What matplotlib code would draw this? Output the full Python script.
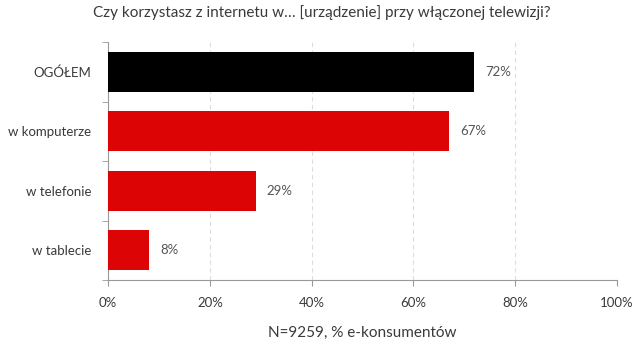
import matplotlib
matplotlib.use('Agg')
import matplotlib.pyplot as plt

# data
categories = ['OGÓŁEM', 'w komputerze', 'w telefonie', 'w tablecie']
values = [72, 67, 29, 8]
bar_colors = ['#000000', '#dc0404', '#dc0404', '#dc0404']
x_ticks = [0, 20, 40, 60, 80, 100]

plt.rcParams['font.family'] = ['Lato', 'DejaVu Sans']
text_color = '#3a3a3a'

fig = plt.figure(figsize=(6.4, 3.51), dpi=100)
ax = fig.add_axes([0.169, 0.202, 0.795, 0.678])

pos = list(range(len(categories)))
ax.barh(pos, values, height=0.67, color=bar_colors, zorder=3)

# value labels to the right of the bars
for p, v in zip(pos, values):
    ax.text(v + 2.2, p, f'{v}%', va='center', ha='left',
            fontsize=9.5, color='#555555')

ax.set_xlim(0, 100)
ax.set_ylim(3.5, -0.5)

ax.set_xticks(x_ticks)
ax.set_xticklabels([f'{t}%' for t in x_ticks], fontsize=9.5, color=text_color)
ax.set_yticks(pos)
ax.set_yticklabels(categories, fontsize=9.5, color=text_color)
ax.tick_params(axis='y', length=0, pad=12)
ax.set_yticks([-0.5, 0.5, 1.5, 2.5, 3.5], minor=True)
ax.tick_params(axis='y', which='minor', length=4, color='#999999')
ax.tick_params(axis='x', length=4, color='#999999', pad=8)

# dashed vertical grid
ax.grid(axis='x', linestyle=(0, (4, 3)), color='#dddddd', linewidth=0.8, zorder=0)

for side in ['top', 'right']:
    ax.spines[side].set_visible(False)
ax.spines['left'].set_color('#999999')
ax.spines['bottom'].set_color('#999999')

ax.set_xlabel('N=9259, % e-konsumentów', fontsize=11, color=text_color, labelpad=12)
fig.suptitle('Czy korzystasz z internetu w… [urządzenie] przy włączonej telewizji?',
             fontsize=11, color=text_color, x=0.503, y=0.985)

fig.savefig('out.png', dpi=100)
